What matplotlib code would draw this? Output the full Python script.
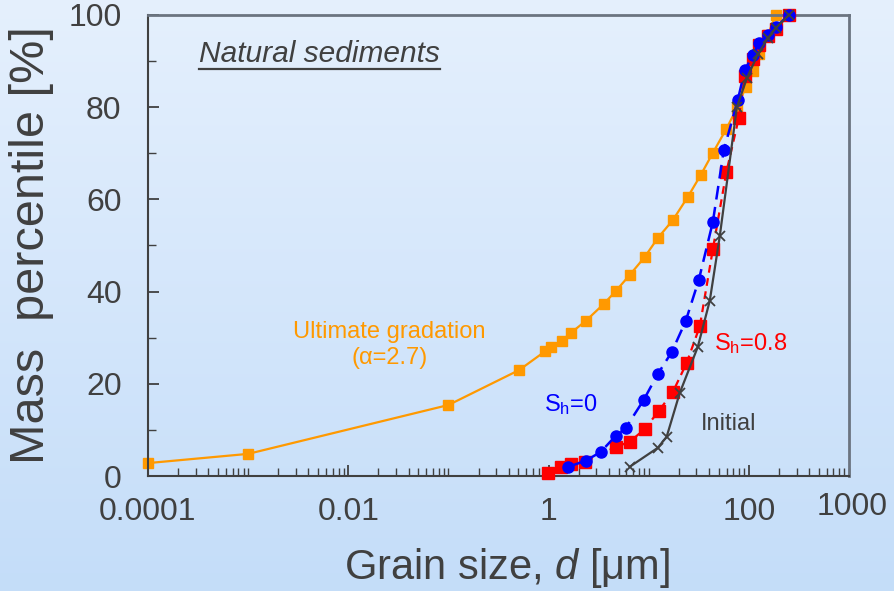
import numpy as np
import matplotlib
matplotlib.use("Agg")
import matplotlib.pyplot as plt
from matplotlib.ticker import FixedLocator, NullFormatter
from matplotlib.lines import Line2D

plt.rcParams['font.family'] = ['Liberation Sans', 'DejaVu Sans']
plt.rcParams['mathtext.fontset'] = 'custom'
plt.rcParams['mathtext.rm'] = 'Liberation Sans'
plt.rcParams['mathtext.it'] = 'Liberation Sans:italic'

# Ultimate gradation (alpha = 2.7)
ult_d = [1e-4, 1e-3, 0.1, 0.51, 0.93, 1.05, 1.35, 1.66, 2.34, 3.55, 4.68, 6.46,
         9.12, 12.3, 17.4, 24.5, 33.1, 43.7, 59.6, 75.9, 93.3, 110, 126, 155, 186]
ult_p = [2.8, 4.8, 15.4, 23.0, 27.1, 28.0, 29.3, 31.0, 33.6, 37.3, 40.1, 43.6,
         47.5, 51.6, 55.5, 60.5, 65.3, 70.1, 75.3, 79.8, 84.4, 87.9, 91.5, 95.7, 100]

# After shearing, S_h = 0
sh0_d = [1.58, 2.34, 3.31, 4.68, 5.89, 8.91, 12.3, 17.0, 23.4, 31.6, 43.7, 56.2,
         77.6, 91.2, 110, 126, 155, 186, 251]
sh0_p = [2.0, 3.3, 5.2, 8.7, 10.4, 16.5, 22.1, 26.9, 33.6, 42.5, 55.1, 70.7,
         81.6, 88.1, 91.3, 93.9, 95.7, 97.4, 100]

# After shearing, S_h = 0.8
sh08_d = [0.98, 1.32, 1.66, 2.29, 4.68, 6.46, 9.12, 12.6, 17.4, 23.9, 32.4, 43.7,
          59.6, 79.4, 91.2, 110, 126, 155, 186, 251]
sh08_p = [0.7, 2.0, 2.6, 3.0, 6.3, 7.4, 10.2, 14.1, 18.2, 24.5, 32.5, 49.2,
          65.9, 77.7, 86.8, 90.5, 93.5, 95.5, 97.0, 100]

# Initial gradation
init_d = [6.46, 12.3, 15.1, 20.4, 30.9, 40.7, 51.3, 75.9, 95.5, 123, 155, 186, 251]
init_p = [2.0, 6.1, 8.5, 18.0, 28.0, 38.0, 52.1, 80.0, 86.3, 91.5, 95.0, 97.2, 100]

x_ticks = [1e-4, 1e-2, 1, 100]
x_tick_labels = ['0.0001', '0.01', '1', '100']
y_ticks = [0, 20, 40, 60, 80, 100]
y_minor = [10, 30, 50, 70, 90]

TXT = '#404040'
ORANGE = '#ff9900'
BLUE = '#0000ff'
RED = '#ff0000'

fig = plt.figure(figsize=(8.95, 5.91), dpi=100)

# soft vertical gradient behind everything
bg = fig.add_axes([0, 0, 1, 1], zorder=-1)
top = np.array([0.898, 0.941, 0.992])
bot = np.array([0.769, 0.867, 0.976])
t = np.linspace(0, 1, 256)[:, None, None]
grad = top * (1 - t) + bot * t
bg.imshow(np.repeat(grad, 4, axis=1), aspect='auto', extent=[0, 1, 0, 1])
bg.axis('off')

ax = fig.add_axes([148 / 895, 1 - 476 / 591, 701 / 895, 461 / 591])
ax.set_facecolor('none')
ax.set_xscale('log')
ax.set_xlim(1e-4, 1e3)
ax.set_ylim(0, 100)

ax.plot(ult_d, ult_p, color=ORANGE, lw=1.6, marker='s', ms=7.8, mec=ORANGE,
        mfc=ORANGE, zorder=2, clip_on=False)
ax.plot(sh08_d, sh08_p, color=RED, lw=1.6, ls=(0, (3.5, 2.5)), marker='s', ms=8,
        mec=RED, mfc=RED, zorder=3, clip_on=False)
ax.plot(sh0_d, sh0_p, color=BLUE, lw=1.8, ls=(0, (5.5, 3)), marker='o', ms=8,
        mec=BLUE, mfc=BLUE, zorder=4, clip_on=False)
ax.plot(init_d, init_p, color=TXT, lw=1.6, marker='x', ms=6.5, mew=1.3, zorder=5,
        clip_on=False)

# ticks
ax.xaxis.set_major_locator(FixedLocator(x_ticks))
ax.set_xticklabels(x_tick_labels)
minor_x = [m * 10.0 ** k for k in range(-4, 3) for m in range(1, 10)
           if not any(np.isclose(m * 10.0 ** k, v) for v in x_ticks)] + [1e3]
ax.xaxis.set_minor_locator(FixedLocator(minor_x))
ax.xaxis.set_minor_formatter(NullFormatter())
ax.yaxis.set_major_locator(FixedLocator(y_ticks))
ax.yaxis.set_minor_locator(FixedLocator(y_minor))

ax.tick_params(which='both', direction='in', colors=TXT, labelcolor=TXT)
ax.tick_params(which='major', length=8, width=1.3)
ax.tick_params(which='minor', length=6, width=1.0)
ax.tick_params(axis='y', which='major', labelsize=23, pad=19)
ax.tick_params(axis='x', which='major', labelsize=23, pad=15)

for s in ('left', 'bottom'):
    ax.spines[s].set_color(TXT)
    ax.spines[s].set_linewidth(1.5)
for s in ('top', 'right'):
    ax.spines[s].set_color('#6b7480')
    ax.spines[s].set_linewidth(2)

ax.annotate('1000', xy=(1e3, 0), xytext=(2, -22), textcoords='offset points',
            ha='center', va='center', fontsize=23, color=TXT)

ax.set_xlabel(r'Grain size, $\it{d}$ [μm]', fontsize=30, color=TXT)
ax.xaxis.set_label_coords((507.5 - 148) / 701, (476 - 568) / 461)
ax.xaxis.label.set_va('center')
ax.set_ylabel('Mass  percentile [%]', fontsize=35, color=TXT)
ax.yaxis.set_label_coords((32 - 148) / 701, (476 - 245) / 461)
ax.yaxis.label.set_va('center')

title = ax.text((199 - 148) / 701, (476 - 62) / 461, 'Natural sediments',
                transform=ax.transAxes, fontsize=21.5, style='italic',
                color=TXT, ha='left', va='baseline')

ax.text(0.3445, 0.284, 'Ultimate gradation\n(α=2.7)', transform=ax.transAxes,
        fontsize=17, color=ORANGE, ha='center', va='center',
        multialignment='center', linespacing=1.25)
ax.text((571 - 148) / 701, (476 - 405) / 461, r'S$_\mathregular{h}$=0',
        transform=ax.transAxes, fontsize=17, color=BLUE, ha='center', va='center')
ax.text((751 - 148) / 701, (476 - 344) / 461, r'S$_\mathregular{h}$=0.8',
        transform=ax.transAxes, fontsize=17, color=RED, ha='center', va='center')
ax.text((729 - 148) / 701, (476 - 424) / 461, 'Initial',
        transform=ax.transAxes, fontsize=17, color=TXT, ha='center', va='center')

# underline the title
fig.canvas.draw()
bb = title.get_window_extent()
W, H = fig.get_size_inches() * fig.dpi
uy = (bb.y0 - 1) / H
fig.add_artist(Line2D([bb.x0 / W, bb.x1 / W], [uy, uy], color=TXT, lw=1.6))

fig.savefig('out.png', dpi=100)
